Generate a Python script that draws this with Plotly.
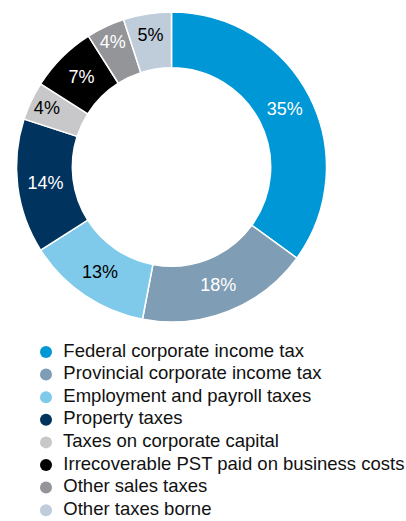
import plotly.graph_objects as go

categories = [
    "Federal corporate income tax",
    "Provincial corporate income tax",
    "Employment and payroll taxes",
    "Property taxes",
    "Taxes on corporate capital",
    "Irrecoverable PST paid on business costs",
    "Other sales taxes",
    "Other taxes borne",
]
shares = [35, 18, 13, 14, 4, 7, 4, 5]
colors = ["#0097D6", "#7F9DB4", "#7FCAEA", "#00335E",
          "#C8C8CA", "#000000", "#939598", "#BFCCDA"]
label_colors = ["white", "white", "black", "white",
                "black", "white", "white", "black"]

FONT = "Liberation Sans, Arial, Helvetica, sans-serif"

fig = go.Figure()

# Donut
fig.add_trace(go.Pie(
    values=shares,
    labels=categories,
    sort=False,
    direction="clockwise",
    rotation=0,
    hole=0.64,
    marker=dict(colors=colors, line=dict(color="white", width=1.5)),
    texttemplate="%{value}%",
    textposition="inside",
    insidetextorientation="horizontal",
    textfont=dict(family=FONT, size=18, color=label_colors),
    showlegend=False,
    hoverinfo="skip",
    domain=dict(x=[16 / 406, 327 / 406], y=[1 - 322 / 521, 1 - 12 / 521]),
))

# Key below the donut: one row per category, round swatches
rows = list(range(len(categories)))
fig.add_trace(go.Scatter(
    x=[0] * len(categories),
    y=rows,
    mode="markers+text",
    marker=dict(color=colors, size=12, symbol="circle", line=dict(width=0)),
    text=["\u2009 " + c for c in categories],
    textposition="middle right",
    textfont=dict(family=FONT, size=18.5, color="#111111"),
    showlegend=False,
    hoverinfo="skip",
    cliponaxis=False,
))

fig.update_layout(
    width=406, height=521,
    margin=dict(l=0, r=0, t=0, b=0, autoexpand=False),
    paper_bgcolor="white", plot_bgcolor="rgba(0,0,0,0)",
    xaxis=dict(visible=False, range=[-46, 360], domain=[0, 1], fixedrange=True),
    yaxis=dict(visible=False, range=[7.48, -0.62], domain=[0, 1 - 338 / 521], fixedrange=True),
    font=dict(family=FONT, color="#111111"),
    showlegend=False,
    hovermode=False,
)

fig.write_html("out.html")
